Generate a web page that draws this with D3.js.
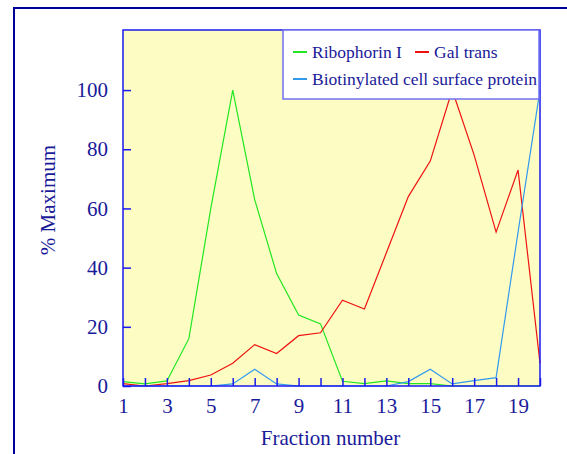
<!DOCTYPE html>
<html>
<head>
<meta charset="utf-8">
<script src="https://cdn.jsdelivr.net/npm/d3@7"></script>
<style>
  body { margin: 0; background: #fff; }
  text { font-family: "Liberation Serif", "Times New Roman", serif; fill: #1a1a99; }
</style>
</head>
<body>
<div id="chart"></div>
<script>
// fractions and series (% of maximum)
const fractions = d3.range(1, 21);
const ribophorin = [1.5, 0.7, 1.7, 16, 60, 100, 63, 38, 24, 21, 1.6, 0.8, 1.7, 0.8, 0.8, 0, 0, 0, 0, 0];
const galTrans   = [0.8, 0, 0.8, 1.8, 3.7, 7.7, 14, 11, 17, 18, 29, 26, 45, 64, 76, 100, 78, 52, 73, 7.7];
const biotin     = [0, 0, 0, 0, 0, 0.7, 5.7, 0.7, 0, 0, 0, 0, 0, 1.5, 5.7, 0.7, 1.8, 2.8, 52, 100];
const yTicks = [0, 20, 40, 60, 80, 100];
const xTickLabels = [1, 3, 5, 7, 9, 11, 13, 15, 17, 19];

const series = [
  {name: "Ribophorin I", values: ribophorin, color: "#22e622"},
  {name: "Gal trans", values: galTrans, color: "#ee1111"},
  {name: "Biotinylated cell surface protein", values: biotin, color: "#3399ee"}
];

const W = 567, H = 454;
const margin = {top: 30, right: 27, bottom: 68, left: 123};
const width = W - margin.left - margin.right,
      height = H - margin.top - margin.bottom;

const svg = d3.select("#chart").append("svg")
    .attr("width", W).attr("height", H);

// outer frame (runs off the page to the right and bottom)
svg.append("rect")
    .attr("x", 14).attr("y", 8)
    .attr("width", 600).attr("height", 500)
    .attr("fill", "none").attr("stroke", "#000099").attr("stroke-width", 2);

const g = svg.append("g").attr("transform", `translate(${margin.left},${margin.top})`);

const x = d3.scaleLinear().domain([1, 20]).range([0, width]);
const y = d3.scaleLinear().domain([0, 120.3]).range([height, 0]);

g.append("rect")
    .attr("width", width).attr("height", height)
    .attr("fill", "#fdfdc3");

// lines
const line = d3.line()
    .x((d, i) => x(fractions[i]))
    .y(d => y(d));

g.selectAll(".series")
  .data(series)
  .join("path")
    .attr("class", "series")
    .attr("d", d => line(d.values))
    .attr("fill", "none")
    .attr("stroke", d => d.color)
    .attr("stroke-width", 1.2);

// frame of plot
g.append("rect")
    .attr("width", width).attr("height", height)
    .attr("fill", "none").attr("stroke", "#1a1aee").attr("stroke-width", 1.5);

// y axis: ticks inside
const yAxis = g.append("g")
    .call(d3.axisLeft(y).tickValues(yTicks).tickSize(-8).tickPadding(15));
yAxis.select(".domain").remove();
yAxis.selectAll("line").attr("stroke", "#1a1aee").attr("stroke-width", 1.5);
yAxis.selectAll("text").style("font-size", "21px").attr("fill", "#1a1a99");

// x axis: ticks at every fraction, labels at odd ones
const xAxis = g.append("g")
    .attr("transform", `translate(0,${height})`)
    .call(d3.axisBottom(x).tickValues(fractions).tickSize(-8).tickPadding(12)
      .tickFormat(d => xTickLabels.includes(d) ? d : ""));
xAxis.select(".domain").remove();
xAxis.selectAll("line").attr("stroke", "#1a1aee").attr("stroke-width", 1.5);
xAxis.selectAll("text").style("font-size", "21px").attr("fill", "#1a1a99");

// axis titles
svg.append("text")
    .attr("x", margin.left + width / 2 - 1).attr("y", 445)
    .attr("text-anchor", "middle")
    .style("font-size", "21px")
    .text("Fraction number");

svg.append("text")
    .attr("transform", `translate(55,${margin.top + height / 2 - 8}) rotate(-90)`)
    .attr("text-anchor", "middle")
    .style("font-size", "21px")
    .text("% Maximum");

// legend
const lg = svg.append("g").attr("transform", "translate(283,30)");
lg.append("rect")
    .attr("width", 256).attr("height", 69)
    .attr("fill", "#fff").attr("stroke", "#6f6ff2").attr("stroke-width", 1.5);

const legendPos = [[10, 22], [132, 22], [10, 49]];
series.forEach((s, i) => {
  const [lx, ly] = legendPos[i];
  lg.append("line")
      .attr("x1", lx).attr("x2", lx + 14)
      .attr("y1", ly).attr("y2", ly)
      .attr("stroke", s.color).attr("stroke-width", 2);
  lg.append("text")
      .attr("x", lx + 19).attr("y", ly + 6)
      .style("font-size", "17.5px")
      .text(s.name);
});
</script>
</body>
</html>
